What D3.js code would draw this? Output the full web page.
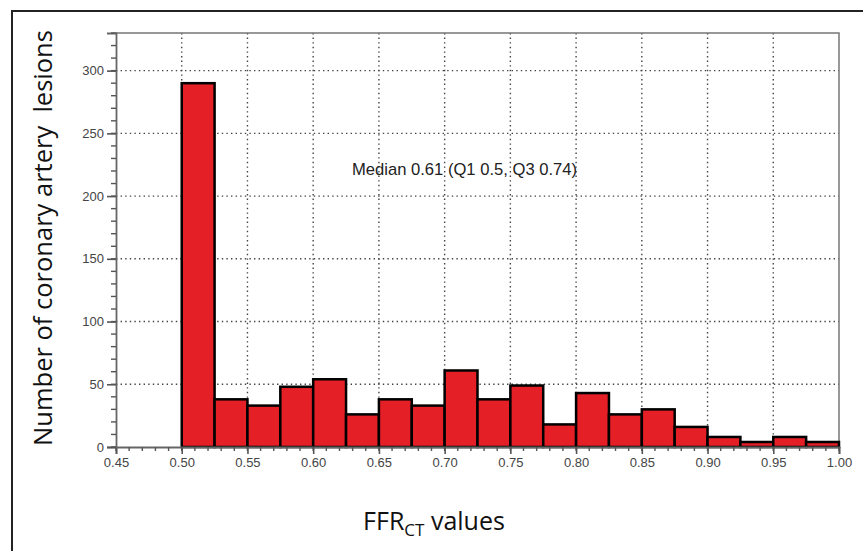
<!DOCTYPE html>
<html>
<head>
<meta charset="utf-8">
<script src="https://cdn.jsdelivr.net/npm/d3@7"></script>
<style>
  body { margin: 0; background: #fff; }
  svg { display: block; }
</style>
</head>
<body>
<div id="chart"></div>
<script>
// histogram of FFRct values, bins of 0.025
var binStarts = [0.500, 0.525, 0.550, 0.575, 0.600, 0.625, 0.650, 0.675, 0.700, 0.725,
                 0.750, 0.775, 0.800, 0.825, 0.850, 0.875, 0.900, 0.925, 0.950, 0.975];
var counts = [290, 38, 33, 48, 54, 26, 38, 33, 61, 38,
              49, 18, 43, 26, 30, 16, 8, 4, 8, 4];
var binWidth = 0.025;

var xTicks = [0.45, 0.50, 0.55, 0.60, 0.65, 0.70, 0.75, 0.80, 0.85, 0.90, 0.95, 1.00];
var yTicks = [0, 50, 100, 150, 200, 250, 300];

var svgWidth = 863;
var svgHeight = 551;

// plot area in pixels
var margin = { top: 33, right: 24, bottom: 104, left: 116 };
var width = svgWidth - margin.left - margin.right;
var height = svgHeight - margin.top - margin.bottom;

var svg = d3.select("#chart")
  .append("svg")
  .attr("width", svgWidth)
  .attr("height", svgHeight);

// outer frame (left and top only, rest cut off)
svg.append("path")
  .attr("d", "M12,551 L12,11 L863,11")
  .attr("fill", "none")
  .attr("stroke", "#222")
  .attr("stroke-width", 2);

var chartGroup = svg.append("g")
  .attr("transform", `translate(${margin.left}, ${margin.top})`);

var xScale = d3.scaleLinear().domain([0.45, 1.0]).range([0, width]);
var yScale = d3.scaleLinear().domain([0, 330]).range([height, 0]);

// dotted grid
chartGroup.append("g")
  .selectAll("line")
  .data(xTicks.slice(1, -1))
  .enter()
  .append("line")
  .attr("x1", d => xScale(d))
  .attr("x2", d => xScale(d))
  .attr("y1", 0)
  .attr("y2", height)
  .attr("stroke", "#444")
  .attr("stroke-width", 1.4)
  .attr("stroke-dasharray", "1.4,3.2");

chartGroup.append("g")
  .selectAll("line")
  .data(yTicks.slice(1))
  .enter()
  .append("line")
  .attr("x1", 0)
  .attr("x2", width)
  .attr("y1", d => yScale(d))
  .attr("y2", d => yScale(d))
  .attr("stroke", "#444")
  .attr("stroke-width", 1.4)
  .attr("stroke-dasharray", "1.4,3.2");

// plot border top/right
chartGroup.append("path")
  .attr("d", `M0,0 L${width},0 L${width},${height}`)
  .attr("fill", "none")
  .attr("stroke", "#777")
  .attr("stroke-width", 1.5);

// bars
chartGroup.selectAll("rect.bar")
  .data(binStarts)
  .enter()
  .append("rect")
  .attr("class", "bar")
  .attr("x", d => xScale(d))
  .attr("width", d => xScale(d + binWidth) - xScale(d))
  .attr("y", (d, i) => yScale(counts[i]))
  .attr("height", (d, i) => yScale(0) - yScale(counts[i]))
  .attr("fill", "#e41f26")
  .attr("stroke", "#000")
  .attr("stroke-width", 2.5);

// minor ticks
var xMinor = d3.range(0, 56).map(i => 0.45 + i * 0.01);
var yMinor = d3.range(0, 34).map(i => i * 10);

var bottomAxis = d3.axisBottom(xScale)
  .tickValues(xTicks)
  .tickFormat(d3.format(".2f"))
  .tickSize(7)
  .tickPadding(4);

var leftAxis = d3.axisLeft(yScale)
  .tickValues(yTicks)
  .tickSize(9)
  .tickPadding(3);

var xAxis = chartGroup.append("g")
  .attr("transform", `translate(0, ${height})`)
  .call(bottomAxis);

chartGroup.append("g")
  .attr("transform", `translate(0, ${height})`)
  .selectAll("line")
  .data(xMinor)
  .enter()
  .append("line")
  .attr("x1", d => xScale(d))
  .attr("x2", d => xScale(d))
  .attr("y1", 0)
  .attr("y2", 4)
  .attr("stroke", "#555")
  .attr("stroke-width", 1.4);

var yAxis = chartGroup.append("g")
  .call(leftAxis);

chartGroup.append("g")
  .selectAll("line")
  .data(yMinor)
  .enter()
  .append("line")
  .attr("x1", 0)
  .attr("x2", -5)
  .attr("y1", d => yScale(d))
  .attr("y2", d => yScale(d))
  .attr("stroke", "#555")
  .attr("stroke-width", 1.4);

[xAxis, yAxis].forEach(ax => {
  ax.select(".domain").attr("stroke", "#666").attr("stroke-width", 1.8);
  ax.selectAll(".tick line").attr("stroke", "#555").attr("stroke-width", 1.6);
  ax.selectAll(".tick text")
    .attr("fill", "#444")
    .style("font-family", "'Liberation Sans', Arial, sans-serif")
    .style("font-size", "13px");
});

// annotation
chartGroup.append("text")
  .attr("x", 352 - margin.left)
  .attr("y", 175 - margin.top)
  .attr("fill", "#222")
  .style("font-family", "'Liberation Sans', Arial, sans-serif")
  .style("font-size", "16.6px")
  .text("Median 0.61 (Q1 0.5, Q3 0.74)");

// y axis title
svg.append("text")
  .attr("transform", "translate(52, 238) rotate(-90)")
  .attr("text-anchor", "middle")
  .attr("fill", "#111")
  .style("font-family", "'Open Sans', sans-serif")
  .style("font-size", "25.5px")
  .style("white-space", "pre")
  .attr("xml:space", "preserve")
  .text("Number of coronary artery  lesions");

// x axis title with subscript
var xTitle = svg.append("text")
  .attr("x", 434)
  .attr("y", 530)
  .attr("text-anchor", "middle")
  .attr("fill", "#111")
  .style("font-family", "'Open Sans', sans-serif")
  .style("font-size", "25px");
xTitle.append("tspan").text("FFR");
xTitle.append("tspan").attr("dy", 6).style("font-size", "17px").text("CT");
xTitle.append("tspan").attr("dy", -6).text(" values");
</script>
</body>
</html>
